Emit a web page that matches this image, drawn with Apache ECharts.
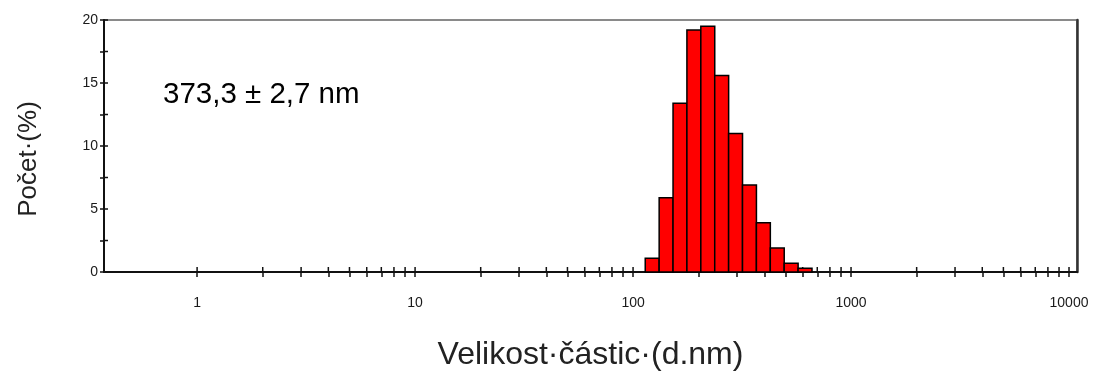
<!DOCTYPE html>
<html>
<head>
<meta charset="utf-8">
<script src="https://cdn.jsdelivr.net/npm/echarts@6/dist/echarts.min.js"></script>
<style>
  html, body { margin: 0; padding: 0; background: #fff; }
  #chart { width: 1106px; height: 376px; }
</style>
</head>
<body>
<div id="chart"></div>
<script>
// size classes (bin centres, nm) and number distribution (%)
var sizeClasses = [122.4, 141.8, 164.2, 190.1, 220.2, 255.0, 295.3, 342.0, 396.1, 458.7, 531.2, 615.1];
var countPct = [1.1, 5.9, 13.4, 19.2, 19.5, 15.6, 11.0, 6.9, 3.9, 1.9, 0.7, 0.3];

var xLabels = [1, 10, 100, 1000, 10000];
var xTicks = [];
[1, 10, 100, 1000].forEach(function (d) {
	for (var k = 1; k <= 9; k++) xTicks.push(d * k);
});
xTicks.push(10000);

var yLabels = [0, 5, 10, 15, 20];
var yTicks = [0, 2.5, 5, 7.5, 10, 12.5, 15, 17.5, 20];

var resultText = '373,3 ± 2,7 nm';

// bin edges: geometric midpoints between neighbouring centres
var step = Math.sqrt(sizeClasses[1] / sizeClasses[0]);
var bins = sizeClasses.map(function (c, i) {
	return [c / step, c * step, countPct[i]];
});

var chart = echarts.init(document.getElementById('chart'));

var font = 'Liberation Sans, Arial, sans-serif';
var xMin = 0.374, xMax = 10880;

var option = {
	animation: false,
	grid: { left: 104, right: 29, top: 20, bottom: 103, show: true, borderColor: '#8a8a8a', borderWidth: 2 },
	xAxis: [{
		type: 'log',
		logBase: 10,
		min: xMin,
		max: xMax,
		position: 'bottom',
		axisLine: { onZero: false, lineStyle: { color: '#111', width: 2 } },
		axisTick: { inside: false, length: 5, customValues: xTicks, lineStyle: { color: '#111', width: 1.5 } },
		axisLabel: {
			customValues: xLabels, margin: 24, color: '#1a1a1a', fontSize: 14, fontFamily: font,
			formatter: function (v) { return String(Math.round(v)); }
		},
		splitLine: { show: false },
		minorTick: { show: false },
		name: 'Velikost·částic·(d.nm)',
		nameLocation: 'middle',
		nameGap: 67,
		nameTextStyle: { color: '#222', fontSize: 32, fontFamily: font }
	}],
	yAxis: [{
		type: 'value',
		min: 0,
		max: 20,
		position: 'left',
		axisLine: { onZero: false, lineStyle: { color: '#111', width: 2 } },
		axisTick: { inside: false, length: 4, customValues: yTicks, lineStyle: { color: '#111', width: 1.5 } },
		axisLabel: { customValues: yLabels, margin: 6, color: '#1a1a1a', fontSize: 14, fontFamily: font },
		splitLine: { show: false }
	}, {
		type: 'value', min: 0, max: 20, position: 'right',
		axisLine: { show: true, lineStyle: { color: '#333', width: 2.5 } },
		axisTick: { show: false }, axisLabel: { show: false }, splitLine: { show: false }
	}],
	graphic: [{
		type: 'text',
		left: 163,
		top: 80,
		style: { text: resultText, fill: '#000', font: '29.5px ' + font }
	}, {
		type: 'text',
		x: 29,
		y: 159,
		rotation: Math.PI / 2,
		style: { text: 'Počet·(%)', fill: '#222', font: '26px ' + font, align: 'center', verticalAlign: 'middle' }
	}],
	series: [{
		// inner halves of the x ticks (ticks cross the axis line), drawn under the bars
		type: 'custom',
		silent: true,
		xAxisIndex: 0,
		yAxisIndex: 0,
		data: xTicks.map(function (v) { return [v, 1]; }),
		renderItem: function (params, api) {
			var p = api.coord([api.value(0), 0]);
			return {
				type: 'rect',
				shape: { x: p[0] - 0.75, y: p[1] - 5, width: 1.5, height: 5 },
				style: { fill: '#111' }
			};
		}
	}, {
		// inner halves of the y ticks
		type: 'custom',
		silent: true,
		xAxisIndex: 0,
		yAxisIndex: 0,
		data: yTicks.map(function (v) { return [1, v]; }),
		renderItem: function (params, api) {
			var p = api.coord([xMin, api.value(1)]);
			return {
				type: 'rect',
				shape: { x: p[0], y: p[1] - 0.75, width: 4, height: 1.5 },
				style: { fill: '#111' }
			};
		}
	}, {
		type: 'custom',
		xAxisIndex: 0,
		yAxisIndex: 0,
		data: bins,
		renderItem: function (params, api) {
			var p0 = api.coord([api.value(0), 0]);
			var p1 = api.coord([api.value(1), api.value(2)]);
			return {
				type: 'rect',
				shape: { x: p0[0], y: p1[1], width: p1[0] - p0[0], height: p0[1] - p1[1] },
				style: { fill: '#ff0000', stroke: '#000', lineWidth: 1.5 }
			};
		}
	}]
};

chart.setOption(option);
</script>
</body>
</html>
